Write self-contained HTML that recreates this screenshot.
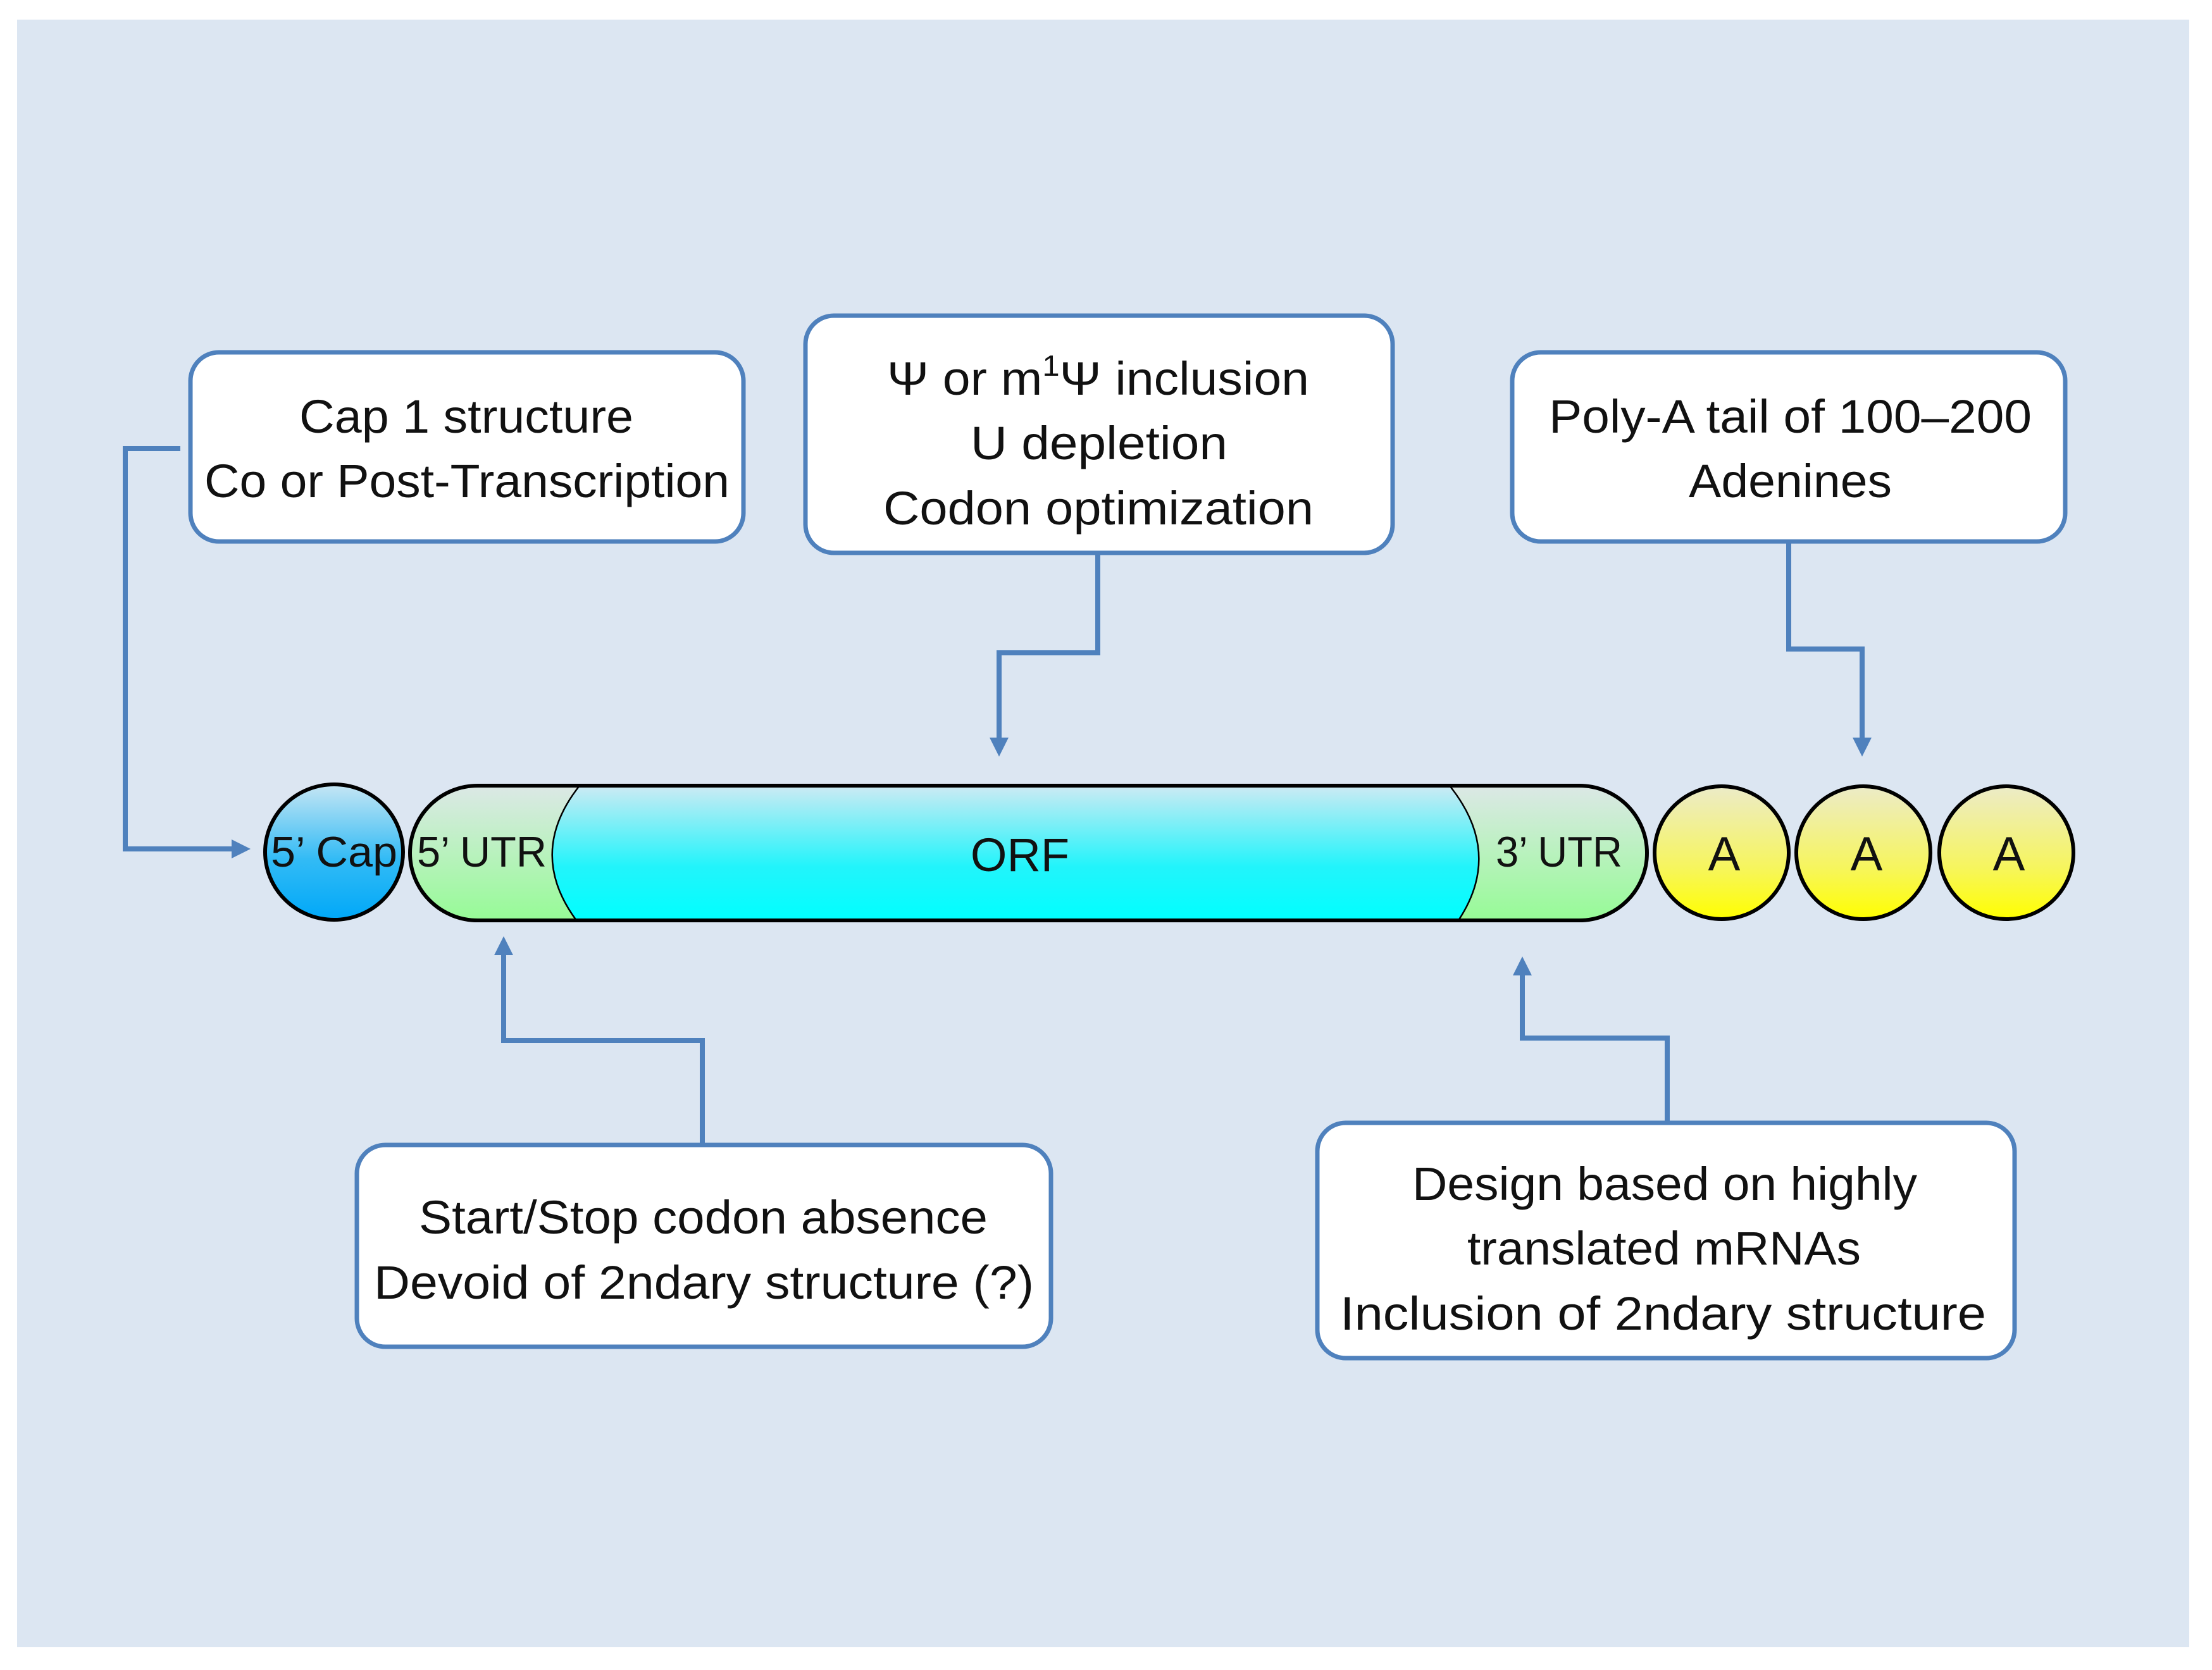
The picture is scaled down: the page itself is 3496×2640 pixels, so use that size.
<!DOCTYPE html>
<html><head><meta charset="utf-8"><style>html,body{margin:0;padding:0;background:#fff}svg{display:block}</style></head>
<body>
<svg width="3496" height="2640" viewBox="0 0 3496 2640" xmlns="http://www.w3.org/2000/svg" font-family="'Liberation Sans', 'DejaVu Sans', sans-serif">
<defs>
<linearGradient id="gcap" x1="0" y1="0" x2="0" y2="1"><stop offset="0" stop-color="#c6e6f4"/><stop offset="0.55" stop-color="#33bbf5"/><stop offset="1" stop-color="#00a8f8"/></linearGradient>
<linearGradient id="gorf" x1="0" y1="0" x2="0" y2="1"><stop offset="0" stop-color="#cdeaf3"/><stop offset="0.6" stop-color="#22f4fb"/><stop offset="1" stop-color="#00ffff"/></linearGradient>
<linearGradient id="gutr" x1="0" y1="0" x2="0" y2="1"><stop offset="0" stop-color="#dce8e6"/><stop offset="1" stop-color="#96fb96"/></linearGradient>
<linearGradient id="ga" x1="0" y1="0" x2="0" y2="1"><stop offset="0" stop-color="#ecebc8"/><stop offset="0.6" stop-color="#f6f560"/><stop offset="1" stop-color="#ffff00"/></linearGradient>
</defs>
<rect x="0" y="0" width="3496" height="2640" fill="#fff"/>
<rect x="27" y="31" width="3433" height="2573" fill="#dce6f2"/>

<g stroke="#4f81bd" stroke-width="8" fill="none">
<polyline points="285,709 198,709 198,1342 370,1342"/>
<polyline points="1735,874 1735,1032 1579,1032 1579,1170"/>
<polyline points="2827,856 2827,1026 2943,1026 2943,1170"/>
<polyline points="1110,1810 1110,1645 796,1645 796,1506"/>
<polyline points="2635,1775 2635,1641 2406,1641 2406,1538"/>
</g>
<g fill="#4f81bd">
<path d="M366,1327 L396,1342 L366,1357 Z"/>
<path d="M1564,1166 L1579,1196 L1594,1166 Z"/>
<path d="M2928,1166 L2943,1196 L2958,1166 Z"/>
<path d="M781,1510 L796,1480 L811,1510 Z"/>
<path d="M2391,1542 L2406,1512 L2421,1542 Z"/>
</g>

<ellipse cx="528" cy="1347" rx="109" ry="107" fill="url(#gcap)" stroke="#000" stroke-width="6"/>
<rect x="648" y="1242" width="1955" height="213" rx="107" ry="107" fill="url(#gorf)"/>
<path d="M916 1242 L755 1242 A107 106.5 0 0 0 755 1455 L911 1455 Q832 1348 916 1242 Z" fill="url(#gutr)" stroke="#000" stroke-width="2.5"/>
<path d="M2291 1242 L2496 1242 A107 106.5 0 0 1 2496 1455 L2305 1455 Q2376 1348 2291 1242 Z" fill="url(#gutr)" stroke="#000" stroke-width="2.5"/>
<rect x="648" y="1242" width="1955" height="213" rx="107" ry="107" fill="none" stroke="#000" stroke-width="6"/>
<ellipse cx="2721" cy="1348" rx="106" ry="105" fill="url(#ga)" stroke="#000" stroke-width="6"/>
<ellipse cx="2945" cy="1348" rx="106" ry="105" fill="url(#ga)" stroke="#000" stroke-width="6"/>
<ellipse cx="3171" cy="1348" rx="106" ry="105" fill="url(#ga)" stroke="#000" stroke-width="6"/>

<g fill="#111" font-size="68">
<text x="528" y="1370" text-anchor="middle" textLength="200" lengthAdjust="spacingAndGlyphs">5’ Cap</text>
<text x="659" y="1370" textLength="205" lengthAdjust="spacingAndGlyphs">5’ UTR</text>
<text x="1612" y="1377" text-anchor="middle" font-size="74">ORF</text>
<text x="2364" y="1370" textLength="200" lengthAdjust="spacingAndGlyphs">3’ UTR</text>
<text x="2725" y="1376" text-anchor="middle" font-size="76">A</text>
<text x="2950" y="1376" text-anchor="middle" font-size="76">A</text>
<text x="3175" y="1376" text-anchor="middle" font-size="76">A</text>
</g>

<g fill="#fff" stroke="#4f81bd" stroke-width="7">
<rect x="301" y="557" width="874" height="299" rx="45"/>
<rect x="1273" y="499" width="928" height="375" rx="45"/>
<rect x="2390" y="557" width="874" height="299" rx="45"/>
<rect x="564" y="1810" width="1097" height="319" rx="45"/>
<rect x="2082" y="1775" width="1102" height="372" rx="45"/>
</g>
<g fill="#111" font-size="74">
<text x="473" y="684" textLength="528" lengthAdjust="spacingAndGlyphs">Cap 1 structure</text>
<text x="323" y="786" textLength="830" lengthAdjust="spacingAndGlyphs">Co or Post-Transcription</text>
<text x="1402" y="624" textLength="667" lengthAdjust="spacingAndGlyphs">Ψ or m<tspan font-size="46" dy="-30">1</tspan><tspan dy="30">Ψ inclusion</tspan></text>
<text x="1534" y="726" textLength="406" lengthAdjust="spacingAndGlyphs">U depletion</text>
<text x="1396" y="829" textLength="680" lengthAdjust="spacingAndGlyphs">Codon optimization</text>
<text x="2448" y="684" textLength="763" lengthAdjust="spacingAndGlyphs">Poly-A tail of 100–200</text>
<text x="2669" y="786" textLength="321" lengthAdjust="spacingAndGlyphs">Adenines</text>
<text x="662" y="1950" textLength="899" lengthAdjust="spacingAndGlyphs">Start/Stop codon absence</text>
<text x="591" y="2053" textLength="1043" lengthAdjust="spacingAndGlyphs">Devoid of 2ndary structure (?)</text>
<text x="2232" y="1897" textLength="798" lengthAdjust="spacingAndGlyphs">Design based on highly</text>
<text x="2319" y="1999" textLength="622" lengthAdjust="spacingAndGlyphs">translated mRNAs</text>
<text x="2118" y="2102" textLength="1021" lengthAdjust="spacingAndGlyphs">Inclusion of 2ndary  structure</text>
</g>
</svg>
</body></html>
